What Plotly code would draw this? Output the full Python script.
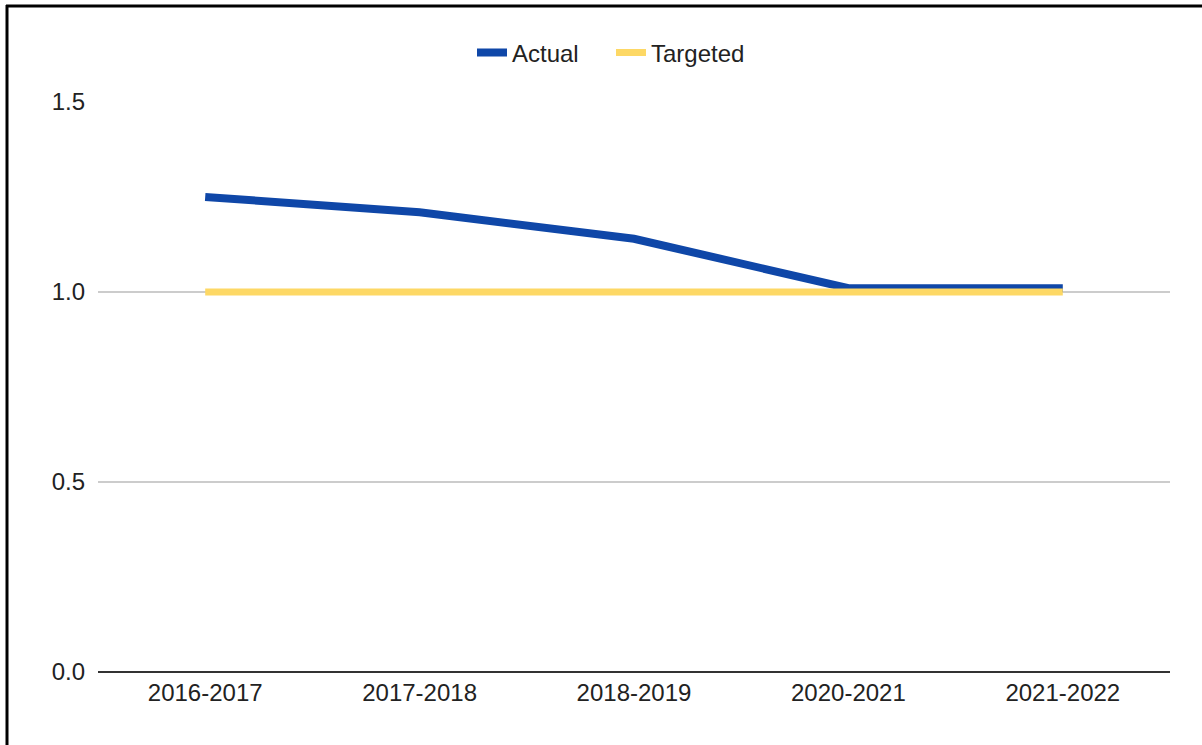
import plotly.graph_objects as go

categories = ["2016-2017", "2017-2018", "2018-2019", "2020-2021", "2021-2022"]
actual = [1.25, 1.21, 1.14, 1.01, 1.01]
targeted = [1.0, 1.0, 1.0, 1.0, 1.0]
y_ticks = [0.0, 0.5, 1.0, 1.5]
y_tick_labels = ["0.0", "0.5", "1.0", "1.5"]

fig = go.Figure()
fig.add_trace(go.Scatter(x=categories, y=actual, name="Actual", mode="lines",
                         line=dict(color="#0f47a8", width=8), legend="legend"))
fig.add_trace(go.Scatter(x=categories, y=targeted, name="Targeted", mode="lines",
                         line=dict(color="#fdd865", width=7), legend="legend2"))

L, R, T, B = 98, 32, 102, 73
W, H = 1202, 745
pw, ph = W - L - R, H - T - B

def px_x(x):
    return (x - L) / pw

def px_y(y):
    return (H - B - y) / ph

legend_common = dict(orientation="h", xanchor="left", yanchor="middle", y=px_y(53),
                     font=dict(size=24, color="#222222"), itemwidth=30,
                     bgcolor="rgba(0,0,0,0)")

fig.update_layout(
    width=W, height=H,
    margin=dict(l=L, r=R, t=T, b=B),
    paper_bgcolor="white", plot_bgcolor="white",
    font=dict(family="Liberation Sans, Arial, sans-serif", size=24, color="#222222"),
    showlegend=True,
    legend=dict(x=px_x(472), **legend_common),
    legend2=dict(x=px_x(611), **legend_common),
    xaxis=dict(type="category", range=[-0.5, 4.5], showgrid=False, showline=False,
               ticks="", tickfont=dict(size=24, color="#222222"), zeroline=False,
               ticklabelstandoff=4),
    yaxis=dict(range=[0, 1.5], tickvals=y_ticks, ticktext=y_tick_labels, showgrid=True,
               gridcolor="#cccccc", gridwidth=1.5, zeroline=True, zerolinecolor="#333333",
               zerolinewidth=2, showline=False, ticks="", ticklabelstandoff=12,
               tickfont=dict(size=24, color="#222222")),
    shapes=[
        dict(type="line", xref="paper", yref="paper", x0=px_x(7), x1=px_x(7),
             y0=px_y(5), y1=px_y(760), line=dict(color="black", width=3)),
        dict(type="line", xref="paper", yref="paper", x0=px_x(6), x1=px_x(1220),
             y0=px_y(6), y1=px_y(6), line=dict(color="black", width=3)),
    ],
)

fig.write_html("out.html", config=dict(displayModeBar=False),
               post_script="document.body.style.margin='0';document.body.style.overflow='hidden';")
